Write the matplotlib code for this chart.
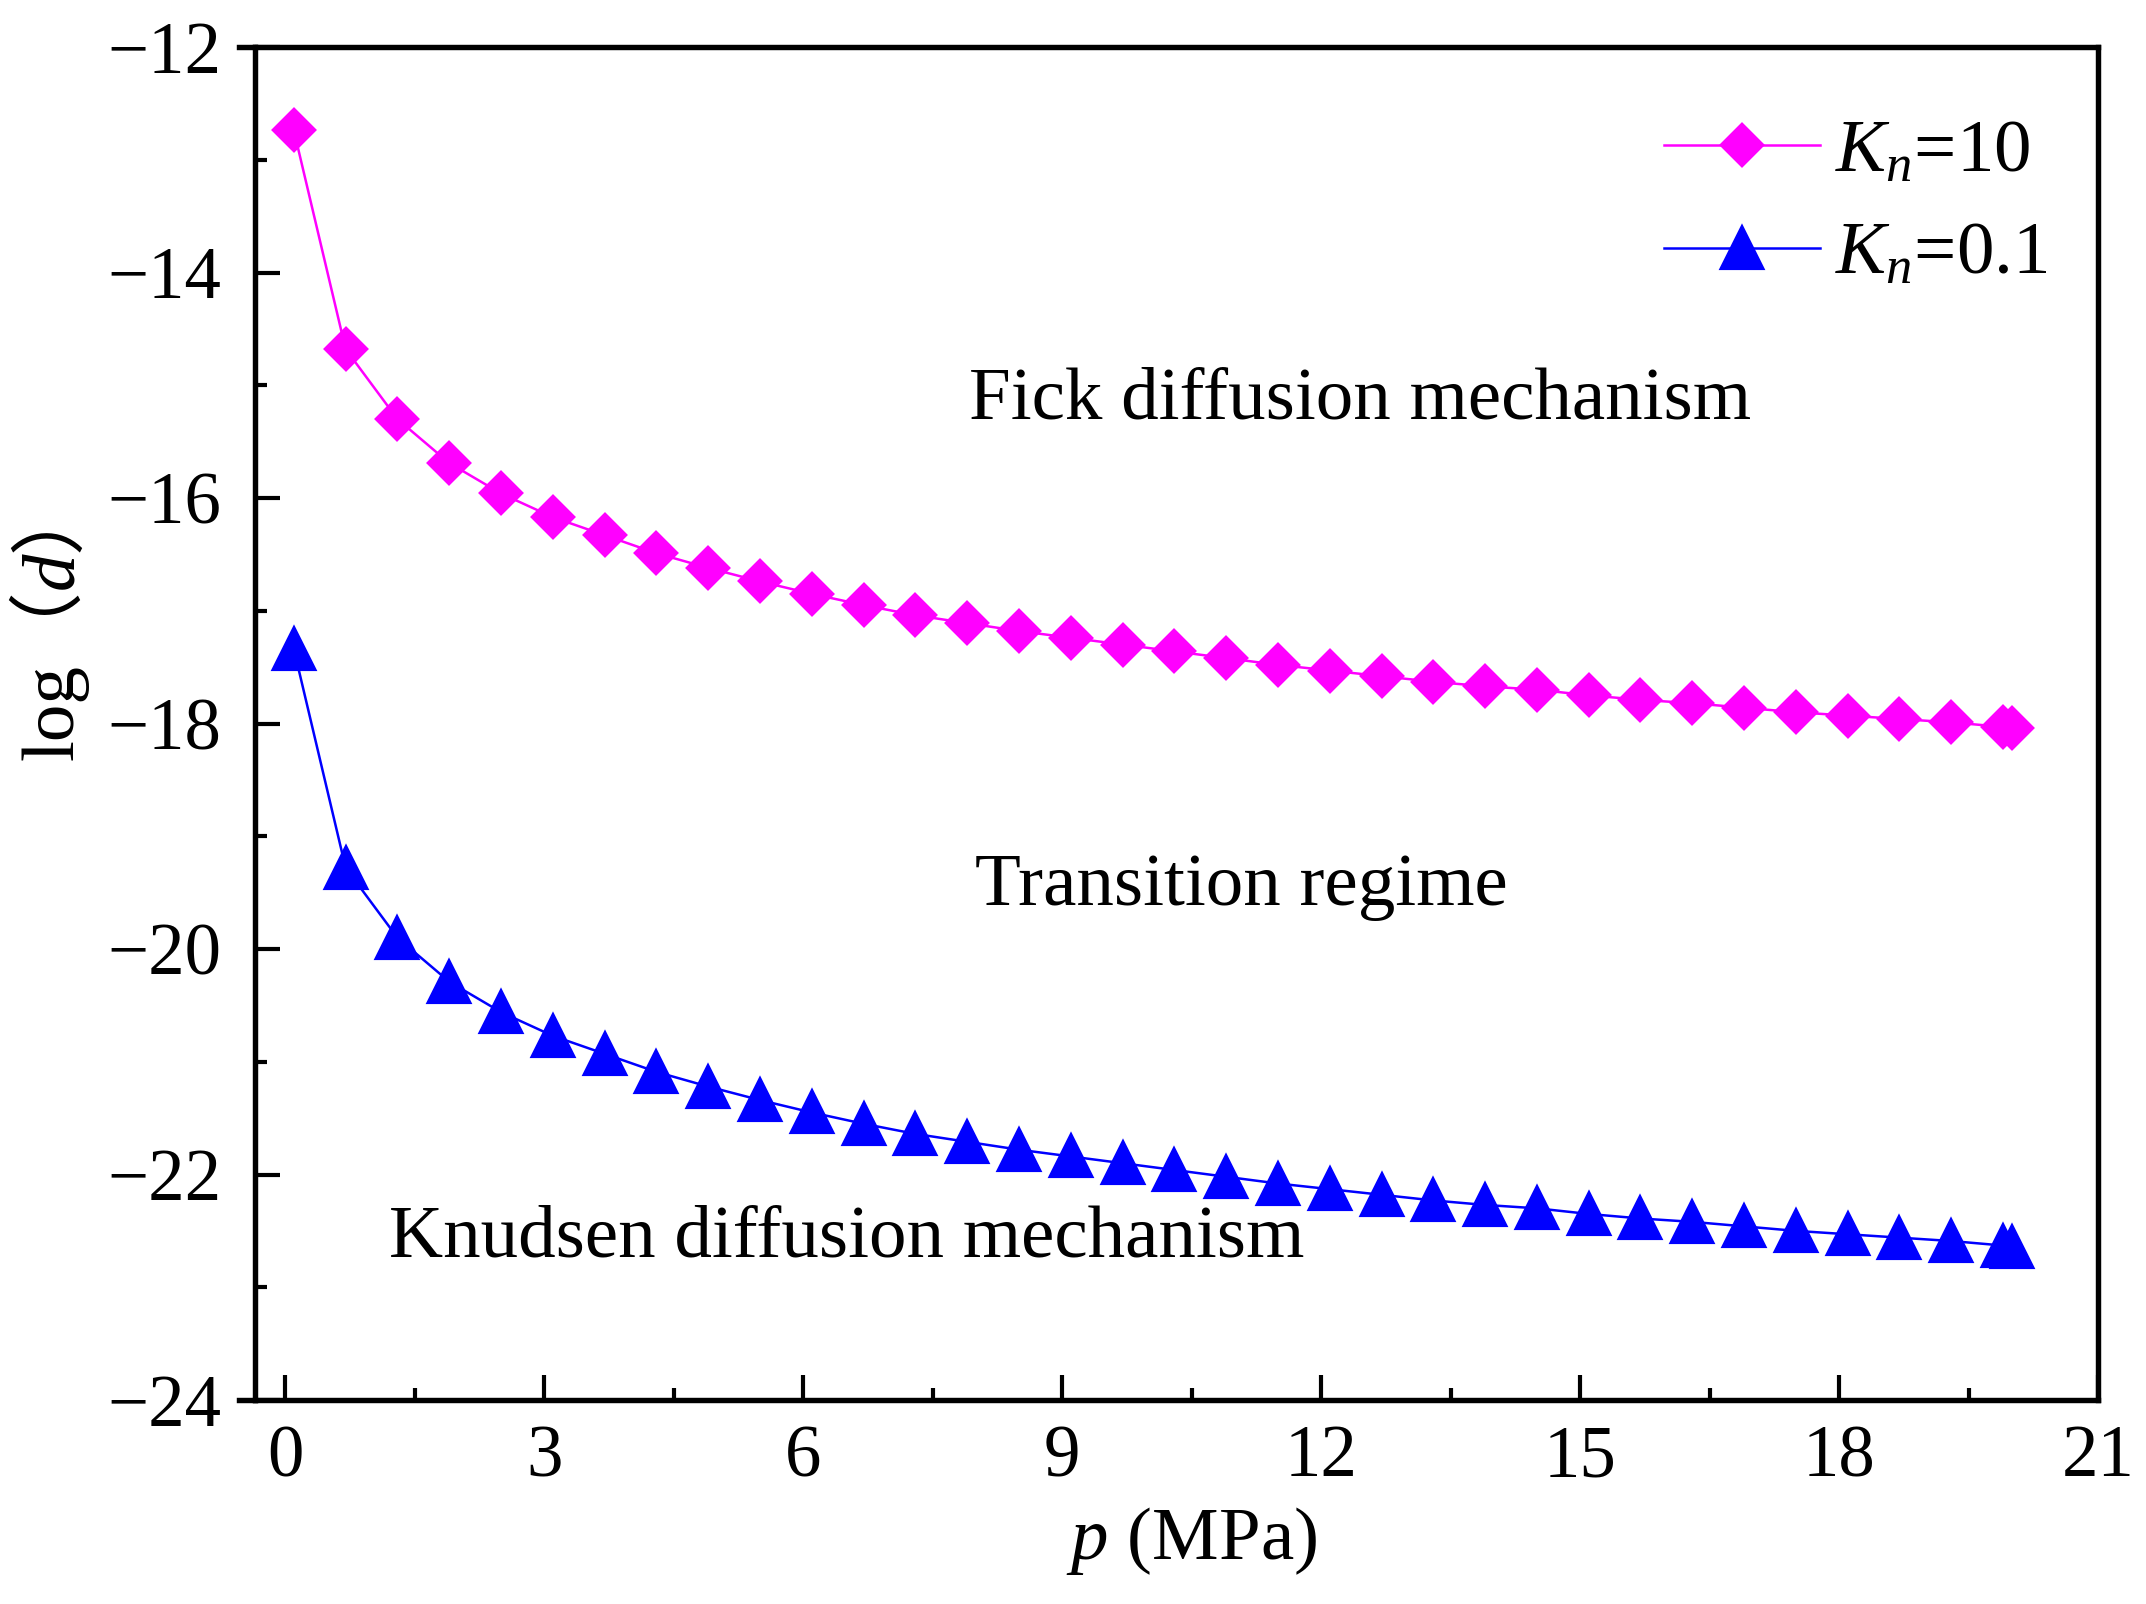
import matplotlib
matplotlib.use("Agg")
import matplotlib.pyplot as plt
from matplotlib.ticker import MultipleLocator
from matplotlib.transforms import IdentityTransform

plt.rcParams['font.family'] = ['Liberation Serif', 'Noto Sans CJK SC', 'DejaVu Sans']
plt.rcParams['mathtext.fontset'] = 'custom'
plt.rcParams['mathtext.rm'] = 'Liberation Serif'
plt.rcParams['mathtext.it'] = 'Liberation Serif:italic'
plt.rcParams['mathtext.bf'] = 'Liberation Serif:bold'

# ---- data ----
pressure = [0.1, 0.7, 1.3, 1.9, 2.5, 3.1, 3.7, 4.3, 4.9, 5.5, 6.1, 6.7, 7.3, 7.9,
            8.5, 9.1, 9.7, 10.3, 10.9, 11.5, 12.1, 12.7, 13.3, 13.9, 14.5, 15.1,
            15.7, 16.3, 16.9, 17.5, 18.1, 18.7, 19.3, 19.9, 20.0]
kn10 = [-12.74, -14.68, -15.30, -15.69, -15.96, -16.17, -16.33, -16.49, -16.62,
        -16.74, -16.85, -16.95, -17.04, -17.11, -17.18, -17.24, -17.30, -17.36,
        -17.42, -17.48, -17.53, -17.58, -17.63, -17.67, -17.70, -17.75, -17.79,
        -17.82, -17.86, -17.90, -17.93, -17.96, -17.99, -18.03, -18.04]
kn01 = [-17.34, -19.28, -19.90, -20.29, -20.56, -20.77, -20.93, -21.09, -21.22,
        -21.34, -21.45, -21.55, -21.64, -21.71, -21.78, -21.84, -21.90, -21.96,
        -22.02, -22.08, -22.13, -22.18, -22.23, -22.27, -22.30, -22.35, -22.39,
        -22.42, -22.46, -22.50, -22.53, -22.56, -22.59, -22.63, -22.64]
series_labels = ['$K_n$=10', '$K_n$=0.1']
region_texts = ['Fick diffusion mechanism', 'Transition regime', 'Knudsen diffusion mechanism']
x_ticks = [0, 3, 6, 9, 12, 15, 18, 21]
y_ticks = [-24, -22, -20, -18, -16, -14, -12]

fig = plt.figure(figsize=(2146/300, 1604/300), dpi=300)
ax = fig.add_axes([255/2146, 1-1400/1604, (2098-255)/2146, (1400-47)/1604])

ax.plot(pressure, kn10, color='#FF00FF', lw=0.6, marker='D', ms=6.8,
        mec='#FF00FF', mfc='#FF00FF', label=series_labels[0])
ax.plot(pressure, kn01, color='#0000FF', lw=0.6, marker='^', ms=9.5,
        mec='#0000FF', mfc='#0000FF', label=series_labels[1])

ax.set_xlim(-0.35, 21)
ax.set_ylim(-24, -12)
ax.set_xticks(x_ticks)
ax.set_yticks(y_ticks)
ax.xaxis.set_minor_locator(MultipleLocator(1.5))
ax.yaxis.set_minor_locator(MultipleLocator(1))
ax.tick_params(which='both', direction='in', top=False, right=False, width=1.0,
               labelsize=17.5)
ax.tick_params(which='major', length=6)
ax.tick_params(which='minor', length=2.8)
ax.tick_params(axis='y', pad=8)
ax.tick_params(axis='x', pad=6)
for s in ax.spines.values():
    s.set_linewidth(1.3)

# small leftward extension of the top and bottom axis lines (as in the original)
ext = 16 / 1843
for yy in (0, 1):
    ax.plot([-ext, 0], [yy, yy], transform=ax.transAxes, color='black', lw=1.3,
            clip_on=False, solid_capstyle='projecting')

ax.set_xlabel('$p$ (MPa)', fontsize=18, labelpad=3)
ax.xaxis.label.set_x(0.508)

ax.text(7.92, -15.14, region_texts[0], fontsize=18, va='center', ha='left')
ax.text(7.99, -19.45, region_texts[1], fontsize=18, va='center', ha='left')
ax.text(1.2, -22.57, region_texts[2], fontsize=18, va='center', ha='left')

leg = ax.legend(loc='upper left', bbox_to_anchor=(1664/2146, 1-119/1604),
                bbox_transform=fig.transFigure, frameon=False, fontsize=18,
                handlelength=2.08, handletextpad=0.2, borderpad=0,
                labelspacing=0.45, borderaxespad=0)

# y label "log（d）" built from pieces (italic d, full-width parentheses)
renderer = fig.canvas.get_renderer()
ylabel_pieces = [('log（', 'normal'), ('d', 'italic'), ('）', 'normal')]
px, py = 72, 1604 - 760
for txt, style in ylabel_pieces:
    t = fig.text(px, py, txt, transform=IdentityTransform(), rotation=90,
                 rotation_mode='anchor', ha='left', va='baseline', fontsize=18,
                 fontstyle=style,
                 family=['Liberation Serif', 'Noto Sans CJK SC', 'DejaVu Sans'])
    bb = t.get_window_extent(renderer)
    py += bb.height

fig.savefig('out.png', dpi=300)
